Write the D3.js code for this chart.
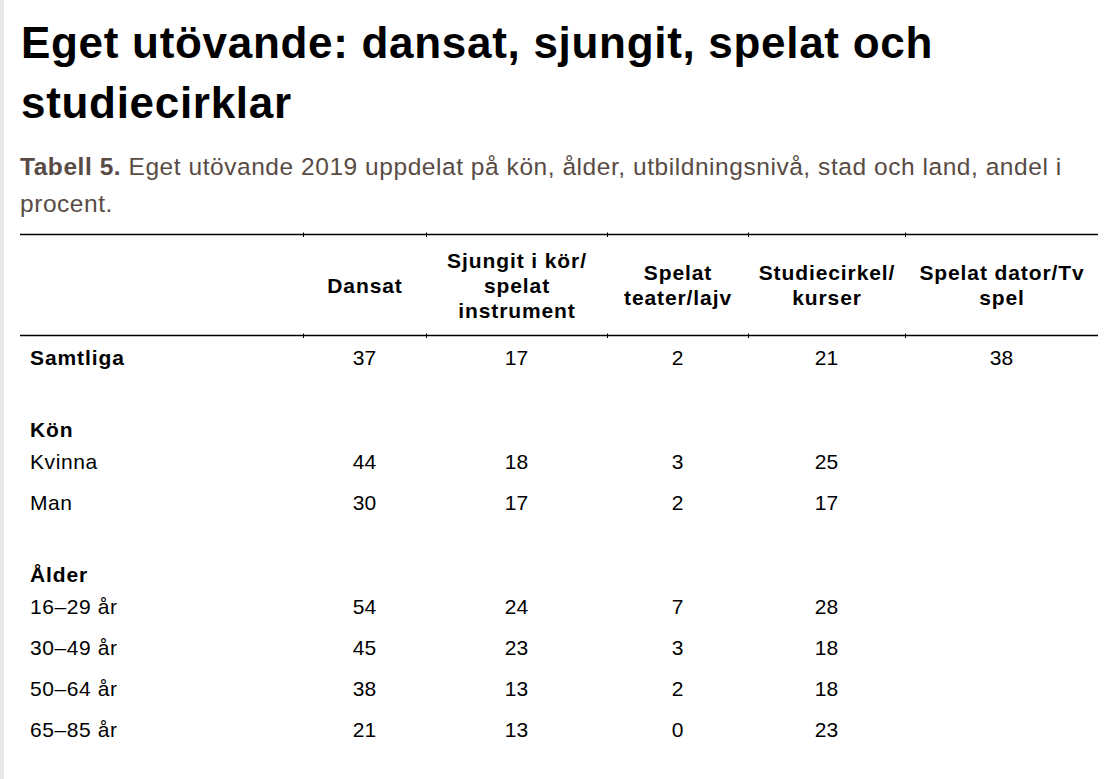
<!DOCTYPE html>
<html>
<head>
<meta charset="utf-8">
<script src="https://cdn.jsdelivr.net/npm/d3@7"></script>
<style>
	body { margin: 0; background: #fff; }
	svg text { font-family: "Liberation Sans", Arial, sans-serif; }
</style>
</head>
<body>
<div id="chart"></div>
<script>

// table content
const title = ["Eget utövande: dansat, sjungit, spelat och", "studiecirklar"]
const captionBold = "Tabell 5."
const captionLines = [" Eget utövande 2019 uppdelat på kön, ålder, utbildningsnivå, stad och land, andel i", "procent."]

const columnKeys = ["dansat", "sjungit", "teater", "studie", "dator"]
const columnHeaders = [
	["Dansat"],
	["Sjungit i kör/", "spelat", "instrument"],
	["Spelat", "teater/lajv"],
	["Studiecirkel/", "kurser"],
	["Spelat dator/Tv", "spel"]
]

const rowLabels = ["Samtliga", "", "Kön", "Kvinna", "Man", "", "Ålder", "16–29 år", "30–49 år", "50–64 år", "65–85 år"]
const rowKinds  = ["total", "blank", "group", "data", "data", "blank", "group", "data", "data", "data", "data"]

const dansat  = [37, null, null, 44, 30, null, null, 54, 45, 38, 21]
const sjungit = [17, null, null, 18, 17, null, null, 24, 23, 13, 13]
const teater  = [2, null, null, 3, 2, null, null, 7, 3, 2, 0]
const studie  = [21, null, null, 25, 17, null, null, 28, 18, 18, 23]
const dator   = [38, null, null, null, null, null, null, null, null, null, null]

const series = { dansat, sjungit, teater, studie, dator }

const width = 1113
const height = 779

const svg = d3.select("#chart").append("svg")
	.attr("width", width)
	.attr("height", height)

// grey strip on the left edge
svg.append("rect")
	.attr("x", 0).attr("y", 0)
	.attr("width", 4).attr("height", height)
	.attr("fill", "#e8e8e8")

// title
svg.append("g").selectAll("text")
	.data(title)
	.enter()
	.append("text")
	.attr("x", 21)
	.attr("y", (d, i) => 58 + i * 60)
	.attr("font-size", "44px")
	.attr("font-weight", "bold")
	.attr("letter-spacing", "0.7px")
	.attr("fill", "#000")
	.text(d => d)

// caption
const cap = svg.append("text")
	.attr("x", 20)
	.attr("y", 175)
	.attr("font-size", "24.5px")
	.attr("letter-spacing", "0.55px")
	.attr("fill", "#584b44")
cap.append("tspan").attr("font-weight", "bold").text(captionBold)
cap.append("tspan").text(captionLines[0])
svg.append("text")
	.attr("x", 20)
	.attr("y", 212)
	.attr("font-size", "24.5px")
	.attr("letter-spacing", "0.55px")
	.attr("fill", "#584b44")
	.text(captionLines[1])

// column layout
const colEdges = [303, 426, 607, 748, 905, 1098]
const tableLeft = 20
const tableRight = colEdges[colEdges.length - 1]

const x = d3.scaleOrdinal()
	.domain(columnKeys)
	.range(columnKeys.map((k, i) => (colEdges[i] + colEdges[i + 1]) / 2))

const headTop = 234
const headBottom = 335

// row layout: gap before each row depends on its kind
let baselines = []
let cur = headBottom + 30
rowKinds.forEach(function(kind, i) {
	if (i > 0) {
		if (kind == "group") cur += 31
		else if (rowKinds[i - 1] == "group") cur += 32
		else cur += 41
	}
	baselines.push(cur)
})

const y = d3.scaleOrdinal()
	.domain(d3.range(rowLabels.length))
	.range(baselines)

// rules
const rules = svg.append("g")
rules.selectAll("line.rule")
	.data([headTop, headBottom])
	.enter()
	.append("line")
	.attr("class", "rule")
	.attr("x1", tableLeft).attr("x2", tableRight)
	.attr("y1", d => d + 0.5).attr("y2", d => d + 0.5)
	.attr("stroke", "#000")
	.attr("stroke-width", 1.5)

// little ticks where the column borders meet the rules
const tickPos = []
;[headTop, headBottom].forEach(function(ry) {
	colEdges.slice(0, -1).forEach(function(cx) { tickPos.push([cx, ry]) })
})
rules.selectAll("line.tick")
	.data(tickPos)
	.enter()
	.append("line")
	.attr("class", "tick")
	.attr("x1", d => d[0] + 0.5).attr("x2", d => d[0] + 0.5)
	.attr("y1", d => d[1] - 1.5).attr("y2", d => d[1] + 3)
	.attr("stroke", "#000")
	.attr("stroke-width", 1)

// header cells
const lineH = 25
const headMid = (headTop + headBottom) / 2
const header = svg.append("g")
columnKeys.forEach(function(key, i) {
	const lines = columnHeaders[i]
	header.append("text")
		.attr("text-anchor", "middle")
		.attr("font-size", "21px")
		.attr("font-weight", "bold")
		.attr("letter-spacing", "0.9px")
		.attr("fill", "#000")
		.selectAll("tspan")
		.data(lines)
		.enter()
		.append("tspan")
		.attr("x", x(key) + 0.5)
		.attr("y", (d, j) => headMid + 8 + (j - (lines.length - 1) / 2) * lineH)
		.text(d => d)
})

// row labels
svg.append("g").selectAll("text")
	.data(rowLabels)
	.enter()
	.append("text")
	.attr("x", 30)
	.attr("y", (d, i) => y(i))
	.attr("font-size", "21px")
	.attr("font-weight", (d, i) => rowKinds[i] == "data" ? "normal" : "bold")
	.attr("letter-spacing", (d, i) => rowKinds[i] == "data" ? "0.6px" : "0.9px")
	.attr("fill", "#000")
	.text(d => d)

// values
columnKeys.forEach(function(key) {
	svg.append("g").selectAll("text")
		.data(series[key].map((v, i) => ({ v: v, i: i })).filter(d => d.v !== null))
		.enter()
		.append("text")
		.attr("x", x(key))
		.attr("y", d => y(d.i))
		.attr("text-anchor", "middle")
		.attr("font-size", "21px")
		.attr("fill", "#000")
		.text(d => d.v)
})

</script>
</body>
</html>
